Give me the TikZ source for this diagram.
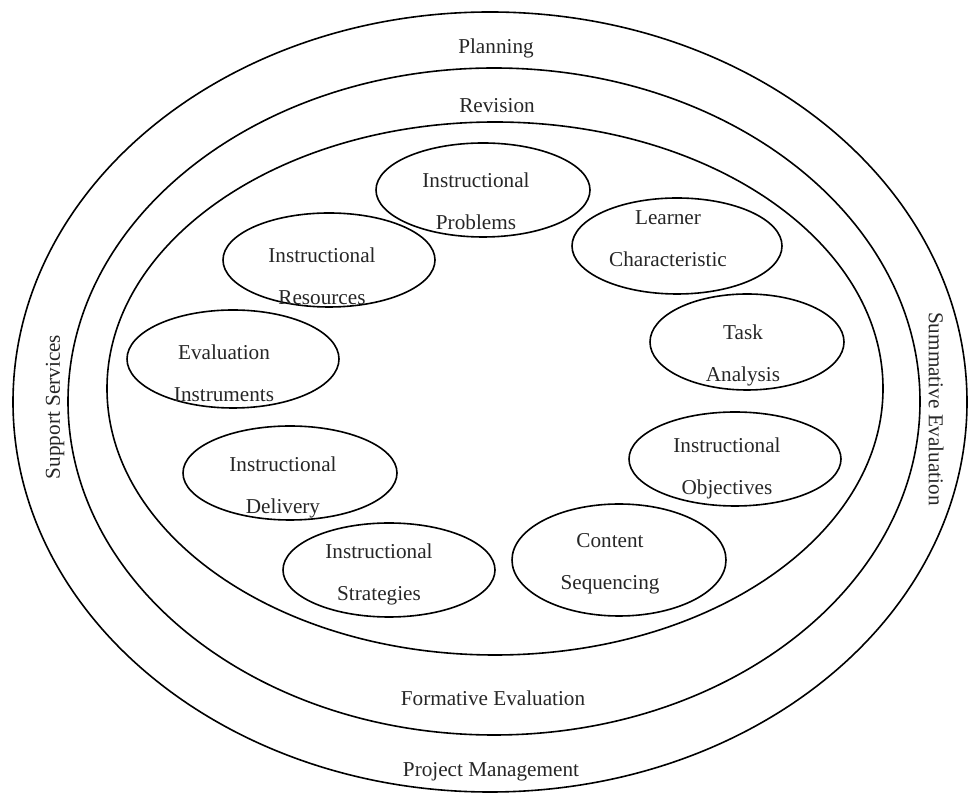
\documentclass[tikz,border=0pt]{standalone}
\usepackage{fontspec}
\setmainfont{Liberation Serif}
\usetikzlibrary{shapes.geometric}

\tikzset{
  ring/.style = {draw, ellipse, inner sep=0pt, line width=0.8pt},
  unit/.style = {draw, ellipse, inner sep=0pt, line width=0.8pt},
  lbl/.style = {align=center, inner sep=0pt, text=black!85,
                font=\fontsize{10.6}{21}\selectfont}
}

\begin{document}
\begin{tikzpicture}[x=0.5pt, y=-0.5pt]
    \useasboundingbox (0,0) rectangle (969,795);

    % the three rings
    \node [ring, minimum width=477pt, minimum height=390pt] (outer) at (490,402) {};
    \node [ring, minimum width=426pt, minimum height=333.5pt] (middle) at (494,401.5) {};
    \node [ring, minimum width=388pt, minimum height=266.5pt] (inner) at (495,388.5) {};

    \node [lbl] (plan) at (496,48) {Planning};
    \node [lbl] (rev) at (497,106) {Revision};
    \node [lbl] (form) at (493,698) {Formative Evaluation};
    \node [lbl] (proj) at (491,772) {Project Management};
    \node [lbl, rotate=90] (supp) at (55,407) {Support Services};
    \node [lbl, rotate=-90] (summ) at (936,409) {Summative Evaluation};

    % the nine components
    \node [unit, minimum width=107pt, minimum height=47pt] (prob) at (483,190) {};
    \node [lbl] (probt) at (476,201) {Instructional\\Problems};

    \node [unit, minimum width=105pt, minimum height=48pt] (learn) at (677,246) {};
    \node [lbl] (learnt) at (668,239) {Learner\\Characteristic};

    \node [unit, minimum width=97pt, minimum height=48pt] (task) at (747,342) {};
    \node [lbl] (taskt) at (743,355.5) {Task\\Analysis};

    \node [unit, minimum width=106pt, minimum height=47pt] (obj) at (735,459) {};
    \node [lbl] (objt) at (727,468.5) {Instructional\\Objectives};

    \node [unit, minimum width=107pt, minimum height=56pt] (cont) at (619,560) {};
    \node [lbl] (contt) at (610,564) {Content\\Sequencing};

    \node [unit, minimum width=106pt, minimum height=47pt] (strat) at (389,570) {};
    \node [lbl] (stratt) at (379,574) {Instructional\\Strategies};

    \node [unit, minimum width=107pt, minimum height=47pt] (deliv) at (290,473) {};
    \node [lbl] (delivt) at (283,487) {Instructional\\Delivery};

    \node [unit, minimum width=106pt, minimum height=49pt] (eval) at (233,359) {};
    \node [lbl] (evalt) at (224,373.5) {Evaluation\\Instruments};

    \node [unit, minimum width=106pt, minimum height=47pt] (res) at (329,260) {};
    \node [lbl] (rest) at (322,276.5) {Instructional\\Resources};
\end{tikzpicture}
\end{document}
